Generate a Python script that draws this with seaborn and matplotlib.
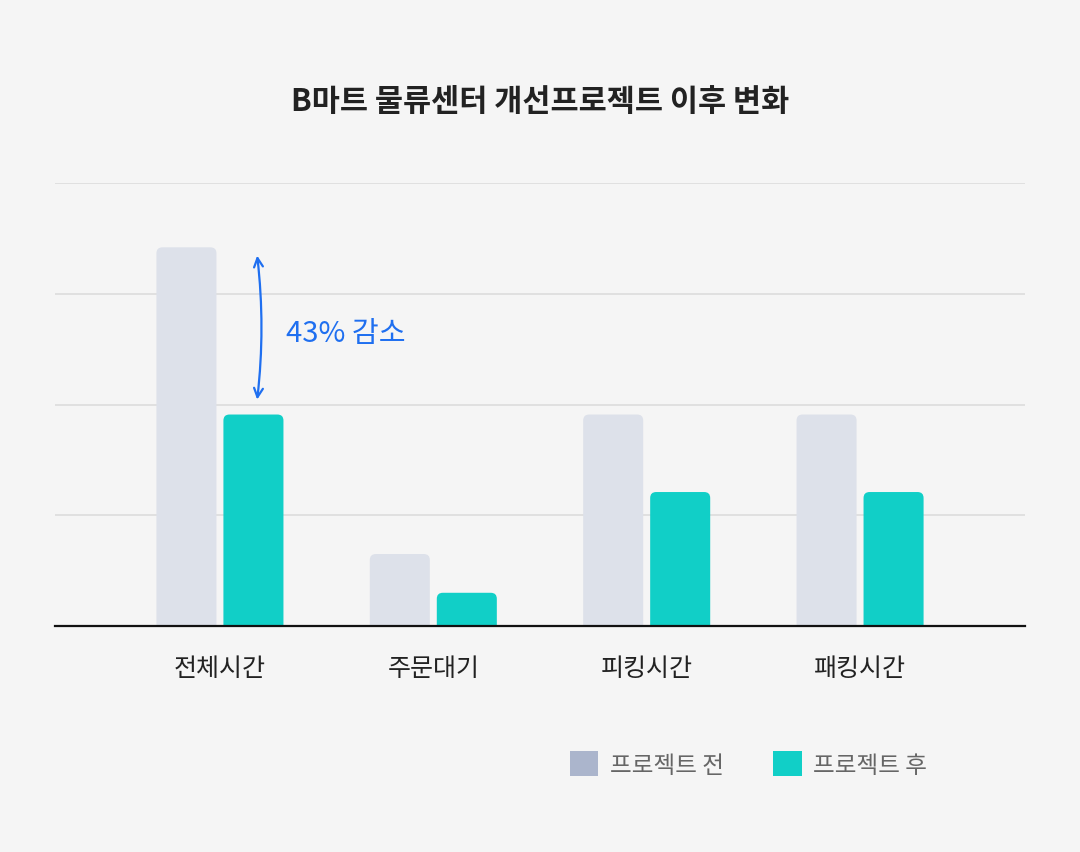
import matplotlib
matplotlib.use("Agg")
import matplotlib.pyplot as plt
from matplotlib.patches import Patch, FancyBboxPatch
import pandas as pd
import seaborn as sns

categories = ["전체시간", "주문대기", "피킹시간", "패킹시간"]
before_vals = [3.42, 0.65, 1.91, 1.91]
after_vals = [1.91, 0.30, 1.21, 1.21]
series = ["프로젝트 전", "프로젝트 후"]
note = "43% 감소"

bar_colors = ["#dde1ea", "#11cfc7"]
legend_colors = ["#abb5cc", "#11cfc7"]
bg = "#f5f5f5"

df = pd.DataFrame({
    "category": categories * 2,
    "series": [series[0]] * len(categories) + [series[1]] * len(categories),
    "value": before_vals + after_vals,
})

sns.set_theme(style="white")
plt.rcParams["font.family"] = ["Noto Sans CJK KR", "DejaVu Sans"]

fig = plt.figure(figsize=(10.8, 8.53), dpi=100, facecolor=bg)
ax = fig.add_axes([55 / 1080, 1 - 627 / 853, 970 / 1080, 443 / 853])
ax.set_facecolor(bg)

sns.barplot(data=df, x="category", y="value", hue="series", palette=bar_colors,
            width=0.628, gap=0.104, legend=False, saturation=1, ax=ax)

ax.set_xlim(-0.773, 3.773)
ax.set_ylim(0, 4.001)
ax.set_yticks([1, 2, 3, 4])
ax.set_yticklabels([])
ax.yaxis.grid(True, color="#dcdcdc", linewidth=1.2)
ax.set_axisbelow(True)
ax.tick_params(axis="y", length=0)
ax.tick_params(axis="x", length=0, pad=21, labelsize=18, labelcolor="#222222")
ax.set_xlabel("")
ax.set_ylabel("")
for s in ["left", "right", "top"]:
    ax.spines[s].set_visible(False)
ax.spines["bottom"].set_color("#111111")
ax.spines["bottom"].set_linewidth(1.6)
ax.spines["bottom"].set_zorder(5)

# rounded top corners
fig.canvas.draw()
px_x = ax.transData.transform((1, 0))[0] - ax.transData.transform((0, 0))[0]
px_y = ax.transData.transform((0, 1))[1] - ax.transData.transform((0, 0))[1]
r = 6 / px_x
aspect = px_x / px_y
for p in list(ax.patches):
    x, y, w, h = p.get_x(), p.get_y(), p.get_width(), p.get_height()
    fc = p.get_facecolor()
    p.remove()
    ry = r * aspect
    ax.add_patch(FancyBboxPatch((x, y - ry), w, h + ry,
                                boxstyle=f"round,pad=0,rounding_size={r}",
                                mutation_aspect=aspect, facecolor=fc,
                                edgecolor="none", zorder=2))

# annotation arrow between before/after of first group
ax_x = 0.173
ax.annotate("", xy=(ax_x, before_vals[0] - 0.05), xytext=(ax_x, after_vals[0] + 0.11),
            arrowprops=dict(arrowstyle="<->", color="#1f6ff0", lw=1.6,
                            mutation_scale=16,
                            connectionstyle="arc3,rad=0.06"), zorder=6)
ax.text(0.31, (before_vals[0] + after_vals[0]) / 2 - 0.02, note,
        color="#1f6ff0", fontsize=21, ha="left", va="center")

fig.text(0.5, 1 - 102 / 853, "B마트 물류센터 개선프로젝트 이후 변화",
         ha="center", va="center", fontsize=22, fontweight="bold", color="#222222")

handles = [Patch(facecolor=c, edgecolor="none") for c in legend_colors]
fig.legend(handles, series, loc="center", bbox_to_anchor=(0.693, 1 - 765 / 853),
           ncol=2, frameon=False, fontsize=17, labelcolor="#666666",
           handlelength=1.2, handleheight=1.2, handletextpad=0.5,
           columnspacing=2.1)

fig.savefig("out.png", dpi=100, facecolor=bg)
